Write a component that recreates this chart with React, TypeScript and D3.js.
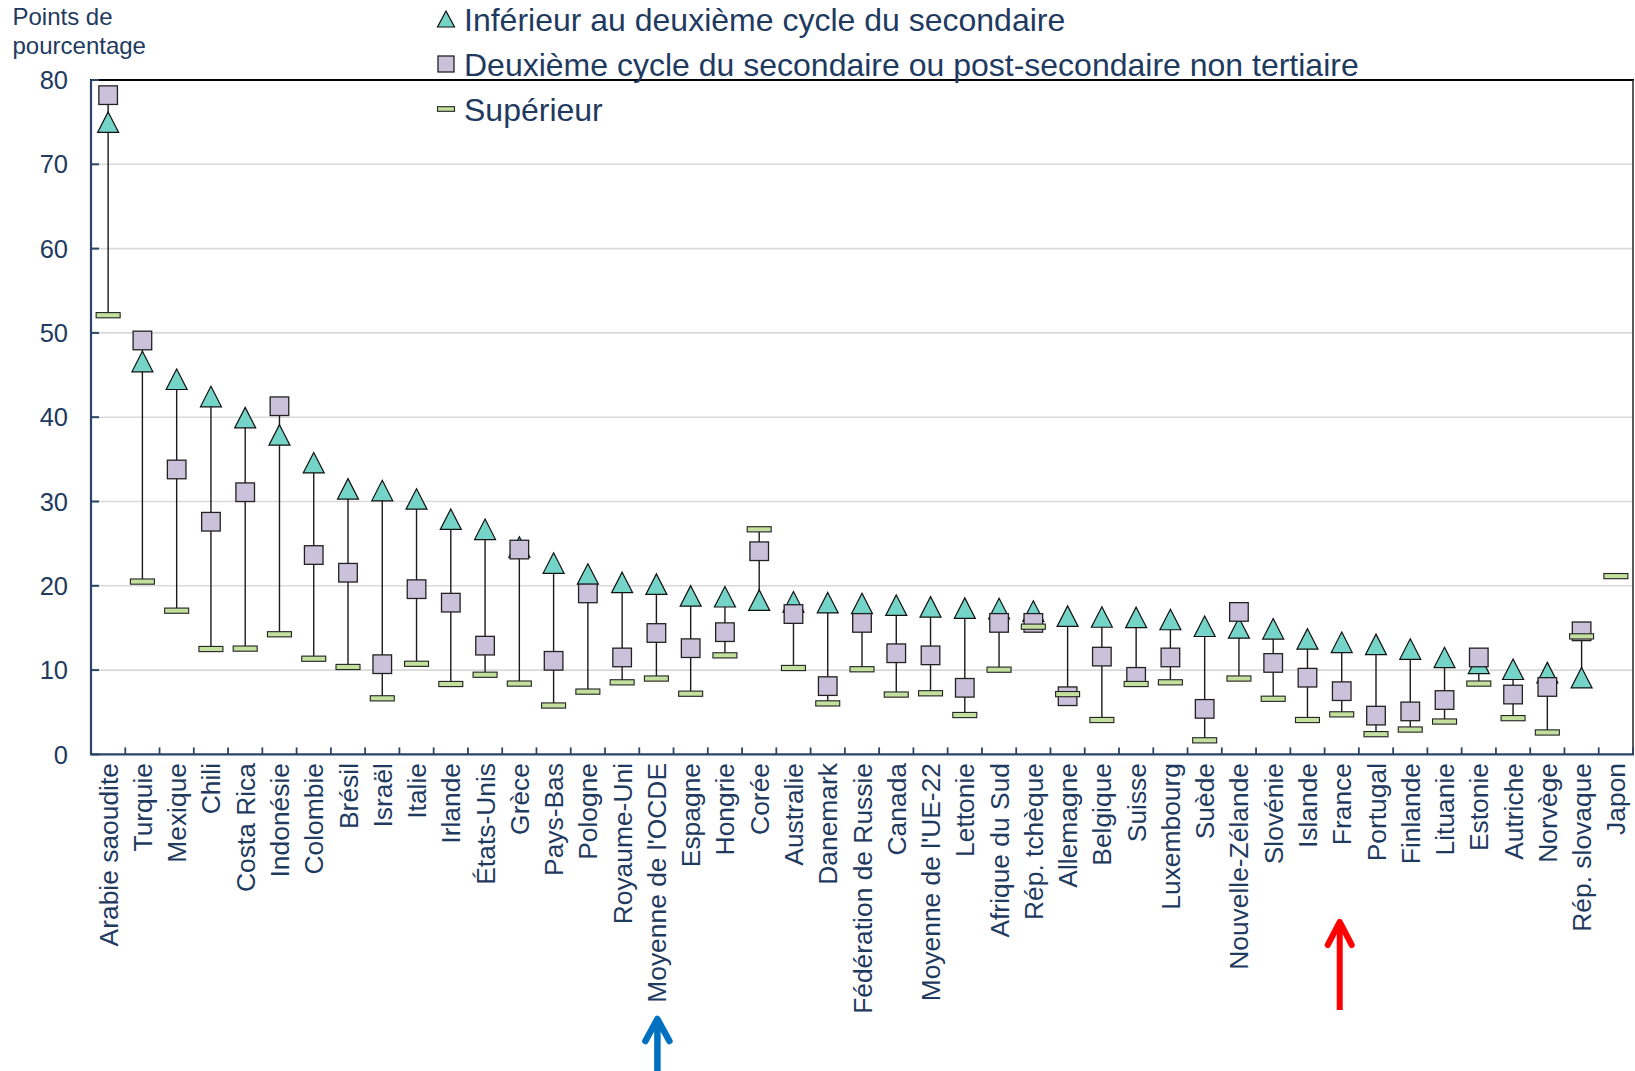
import React from "react";
import * as d3 from "d3";

const categories = [
  "Arabie saoudite", "Turquie", "Mexique", "Chili", "Costa Rica", "Indonésie", "Colombie", "Brésil",
  "Israël", "Italie", "Irlande", "États-Unis", "Grèce", "Pays-Bas", "Pologne", "Royaume-Uni",
  "Moyenne de l'OCDE", "Espagne", "Hongrie", "Corée", "Australie", "Danemark", "Fédération de Russie",
  "Canada", "Moyenne de l'UE-22", "Lettonie", "Afrique du Sud", "Rép. tchèque", "Allemagne", "Belgique",
  "Suisse", "Luxembourg", "Suède", "Nouvelle-Zélande", "Slovénie", "Islande", "France", "Portugal",
  "Finlande", "Lituanie", "Estonie", "Autriche", "Norvège", "Rép. slovaque", "Japon",
];

const lowerSecondary = [
  75.0, 46.6, 44.5, 42.45, 39.95, 37.9, 34.6, 31.5, 31.3, 30.3, 27.9, 26.7, 24.6, 22.7, 21.4, 20.4,
  20.2, 18.8, 18.7, 18.3, 18.1, 18.0, 17.9, 17.7, 17.5, 17.35, 17.3, 17.0, 16.4, 16.3, 16.25, 16.0,
  15.2, 15.0, 14.9, 13.7, 13.3, 13.05, 12.5, 11.5, 10.8, 10.1, 9.7, 9.1, null,
];

const upperSecondary = [
  78.2, 49.1, 33.8, 27.6, 31.1, 41.3, 23.65, 21.55, 10.7, 19.6, 18.0, 12.9, 24.3, 11.1, 19.1, 11.5,
  14.4, 12.6, 14.5, 24.1, 16.65, 8.1, 15.6, 12.0, 11.75, 7.9, 15.6, 15.6, 6.9, 11.6, 9.2, 11.5,
  5.4, 16.9, 10.85, 9.1, 7.5, 4.6, 5.1, 6.45, 11.5, 7.1, 8.0, 14.6, null,
];

const tertiary = [
  52.1, 20.5, 17.05, 12.5, 12.55, 14.25, 11.35, 10.37, 6.65, 10.75, 8.35, 9.45, 8.4, 5.8, 7.45, 8.55,
  9.0, 7.2, 11.75, 26.7, 10.25, 6.05, 10.1, 7.1, 7.25, 4.67, 10.05, 15.15, 7.15, 4.08, 8.35, 8.55,
  1.67, 9.0, 6.6, 4.08, 4.75, 2.4, 2.95, 3.9, 8.4, 4.3, 2.6, 14.0, 21.15,
];

const yTicks = [0, 10, 20, 30, 40, 50, 60, 70, 80];

const legendLabels = [
  "Inférieur au deuxième cycle du secondaire",
  "Deuxième cycle du secondaire ou post-secondaire non tertiaire",
  "Supérieur",
];

const yTitle = ["Points de", "pourcentage"];

const blueArrowCategory = "Moyenne de l'OCDE";
const redArrowCategory = "France";

const W = 1635;
const H = 1071;
const TEXT = "#1F3A5F";
const AXIS = "#2B4468";
const FONT = "Arial, 'Liberation Sans', Helvetica, sans-serif";
const TRI_FILL = "#74D4C8";
const SQ_FILL = "#CBC1DA";
const DASH_FILL = "#C4E09E";

function triPath(cx: number, cy: number, w: number, h: number) {
  return `M${cx},${cy - h / 2} L${cx + w / 2},${cy + h / 2} L${cx - w / 2},${cy + h / 2} Z`;
}

export default function App() {
  const x = d3.scaleBand<string>().domain(categories).range([91, 1633]).padding(0);
  const y = d3.scaleLinear().domain([0, 80]).range([754.4, 80]);
  const bw = x.bandwidth();
  const cx = (c: string) => (x(c) as number) + bw / 2;

  const rows = categories.map((c, i) => {
    const vals = [lowerSecondary[i], upperSecondary[i], tertiary[i]].filter(
      (v) => v !== null && v !== undefined
    ) as number[];
    return { c, i, min: d3.min(vals) as number, max: d3.max(vals) as number, n: vals.length };
  });

  const blueX = cx(blueArrowCategory) + 1;
  const redX = cx(redArrowCategory) - 2;

  return (
    <svg
      width={W}
      height={H}
      style={{ position: "absolute", left: 0, top: 0, background: "#fff" }}
      fontFamily={FONT}
    >
      <rect x={0} y={0} width={W} height={H} fill="#fff" />
      {/* gridlines */}
      {yTicks
        .filter((t) => t > 0 && t < 80)
        .map((t) => (
          <line key={"g" + t} x1={91} x2={1633} y1={y(t)} y2={y(t)} stroke="#D9D9D9" strokeWidth={1.6} />
        ))}
      {/* plot border top and right */}
      <line x1={90} x2={1634} y1={y(80)} y2={y(80)} stroke="#000" strokeWidth={2} />
      <line x1={1633} x2={1633} y1={y(80)} y2={y(0)} stroke="#333" strokeWidth={1.6} />
      {/* y axis */}
      <line x1={91} x2={91} y1={y(80)} y2={y(0)} stroke={AXIS} strokeWidth={2.2} />
      {yTicks.map((t) => (
        <g key={"yt" + t}>
          <line x1={91} x2={99} y1={y(t)} y2={y(t)} stroke={AXIS} strokeWidth={2} />
          <text x={68} y={y(t)} dy="0.36em" textAnchor="end" fontSize={25.5} fill={TEXT}>
            {t}
          </text>
        </g>
      ))}
      {/* x axis */}
      <line x1={90} x2={1634} y1={y(0)} y2={y(0)} stroke={AXIS} strokeWidth={2.4} />
      {categories.map((c) => (
        <line
          key={"xt" + c}
          x1={(x(c) as number) + bw}
          x2={(x(c) as number) + bw}
          y1={y(0)}
          y2={y(0) - 7}
          stroke={AXIS}
          strokeWidth={1.8}
        />
      ))}
      {/* x labels */}
      {categories.map((c) => (
        <text
          key={"xl" + c}
          transform={`translate(${cx(c)},763) rotate(-90)`}
          dy="0.36em"
          textAnchor="end"
          fontSize={26.4}
          fill={TEXT}
        >
          {c}
        </text>
      ))}
      {/* hi-lo lines */}
      {rows
        .filter((r) => r.n > 1)
        .map((r) => (
          <line
            key={"hl" + r.c}
            x1={cx(r.c)}
            x2={cx(r.c)}
            y1={y(r.max)}
            y2={y(r.min)}
            stroke="#1a1a1a"
            strokeWidth={1.4}
          />
        ))}
      {/* triangles */}
      {categories.map((c, i) =>
        lowerSecondary[i] === null ? null : (
          <path
            key={"tri" + c}
            d={triPath(cx(c), y(lowerSecondary[i] as number), 21, 20.5)}
            fill={TRI_FILL}
            stroke="#111"
            strokeWidth={1.2}
          />
        )
      )}
      {/* squares */}
      {categories.map((c, i) =>
        upperSecondary[i] === null ? null : (
          <rect
            key={"sq" + c}
            x={cx(c) - 9.3}
            y={y(upperSecondary[i] as number) - 9.3}
            width={18.6}
            height={18.6}
            fill={SQ_FILL}
            stroke="#222"
            strokeWidth={1.3}
          />
        )
      )}
      {/* tertiary dashes */}
      {categories.map((c, i) =>
        tertiary[i] === null ? null : (
          <rect
            key={"da" + c}
            x={cx(c) - 12}
            y={y(tertiary[i] as number) - 2.6}
            width={24}
            height={5.2}
            fill={DASH_FILL}
            stroke="#222"
            strokeWidth={1.1}
          />
        )
      )}
      {/* y title */}
      {yTitle.map((t, i) => (
        <text key={"yt" + i} x={12.5} y={16 + i * 29} dy="0.36em" fontSize={24} fill={TEXT}>
          {t}
        </text>
      ))}
      {/* legend */}
      {legendLabels.map((t, i) => {
        const ly = 19 + i * 45;
        const mx = 446;
        return (
          <g key={"lg" + i}>
            {i === 0 && <path d={triPath(mx, ly, 17, 16)} fill={TRI_FILL} stroke="#111" strokeWidth={1.2} />}
            {i === 1 && (
              <rect x={mx - 8} y={ly - 8} width={16} height={16} fill={SQ_FILL} stroke="#222" strokeWidth={1.3} />
            )}
            {i === 2 && (
              <rect x={mx - 8.5} y={ly - 2.3} width={17} height={4.6} fill={DASH_FILL} stroke="#222" strokeWidth={1.1} />
            )}
            <text x={464} y={ly} dy="0.36em" fontSize={32} fill={TEXT}>
              {t}
            </text>
          </g>
        );
      })}
      {/* arrows */}
      <g stroke="#0070C0" strokeWidth={6.5} fill="none" strokeLinecap="round" strokeLinejoin="round">
        <line x1={blueX} x2={blueX} y1={1022} y2={1075} strokeLinecap="butt" />
        <polyline points={`${blueX - 12},${1041} ${blueX},${1019} ${blueX + 12},${1041}`} />
      </g>
      <g stroke="#FF0000" strokeWidth={6} fill="none" strokeLinecap="round" strokeLinejoin="round">
        <line x1={redX} x2={redX} y1={925} y2={1010} strokeLinecap="butt" />
        <polyline points={`${redX - 12},${945} ${redX},${922} ${redX + 12},${945}`} />
      </g>
    </svg>
  );
}
